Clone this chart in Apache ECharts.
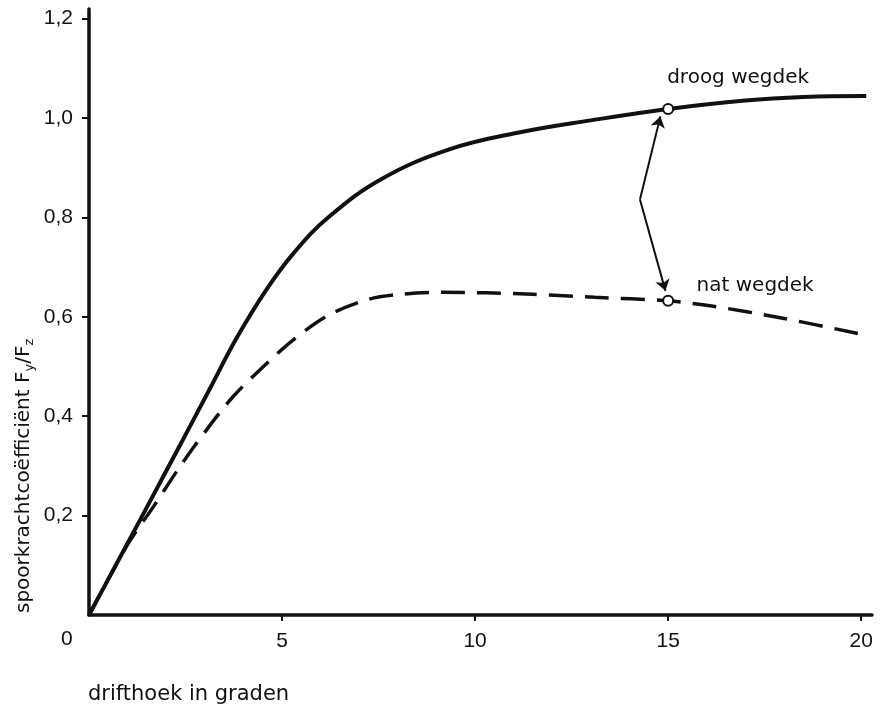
<!DOCTYPE html>
<html>
<head>
<meta charset="utf-8">
<script src="https://cdn.jsdelivr.net/npm/echarts@6.0.0/dist/echarts.min.js"></script>
<style>
  html, body { margin: 0; padding: 0; background: #fff; }
  #chart { width: 880px; height: 709px; }
</style>
</head>
<body>
<div id="chart"></div>
<script>
// drifthoek (graden) -> spoorkrachtcoefficient
var droogWegdek = [
  [0, 0], [0.7, 0.101], [1.41, 0.204], [2.36, 0.342], [3.13, 0.455], [3.83, 0.558],
  [4.6, 0.655], [5.3, 0.728], [6.2, 0.8], [7.6, 0.878], [9.35, 0.937], [11.1, 0.97],
  [13.0, 0.995], [15, 1.018], [17, 1.035], [18.5, 1.042], [20.13, 1.044]
];
var natWegdek = [
  [0, 0], [1.0, 0.142], [1.67, 0.218], [2.36, 0.299], [3.05, 0.373], [3.74, 0.44],
  [4.52, 0.5], [5.3, 0.554], [6.2, 0.603], [7.19, 0.634], [8.06, 0.645], [9.18, 0.649],
  [10.3, 0.648], [11.5, 0.645], [13.1, 0.639], [15, 0.632], [16.17, 0.621],
  [17.9, 0.598], [20.06, 0.564]
];
var markPunten = [[15, 1.018], [15, 0.632]];
var markNamen = ['droog wegdek', 'nat wegdek'];
var pijlen = [
  [[14.27, 0.836], [14.8, 1.003]],
  [[14.27, 0.836], [14.93, 0.652]]
];
var xTicks = [5, 10, 15, 20];
var yTicks = [0.2, 0.4, 0.6, 0.8, 1.0, 1.2];

var ink = '#111';
var myChart = echarts.init(document.getElementById('chart'));

var option = {
  backgroundColor: '#fff',
  animation: false,
  grid: { left: 89, right: 8, top: 9, bottom: 94 },
  xAxis: {
    type: 'value', min: 0, max: 20.28,
    axisLine: { show: true, lineStyle: { color: ink, width: 3.5 } },
    axisTick: { show: true, customValues: xTicks, length: 6, lineStyle: { color: ink, width: 2 } },
    axisLabel: {
      customValues: xTicks, margin: 16, color: ink,
      fontFamily: 'Liberation Sans', fontSize: 21
    },
    splitLine: { show: false }
  },
  yAxis: {
    type: 'value', min: 0, max: 1.219,
    axisLine: { show: true, lineStyle: { color: ink, width: 3.5 } },
    axisTick: { show: true, customValues: yTicks, length: 7, lineStyle: { color: ink, width: 2 } },
    axisLabel: {
      customValues: yTicks, margin: 16, color: ink,
      fontFamily: 'Liberation Sans', fontSize: 21,
      formatter: function (v) { return v.toFixed(1).replace('.', ','); }
    },
    splitLine: { show: false }
  },
  graphic: [
    { type: 'text', left: 61, top: 629, style: { text: '0', fill: ink, font: '21px "Liberation Sans"' } },
    { type: 'text', x: 88, y: 695,
      style: { text: 'drifthoek in graden', fill: ink, font: '21px "DejaVu Sans"',
               align: 'left', verticalAlign: 'middle' } },
    { type: 'text', x: 24, y: 613, rotation: Math.PI / 2,
      style: {
        text: 'spoorkrachtcoëfficiënt F{sub|y}/F{sub|z}',
        fill: ink, font: '20px "DejaVu Sans"', align: 'left', verticalAlign: 'middle',
        rich: { sub: { fontSize: 13, fontFamily: 'DejaVu Sans', fill: ink, padding: [12, 0, 0, 0] } }
      } }
  ],
  series: [
    {
      type: 'line', data: droogWegdek, smooth: 0.4, symbol: 'none',
      lineStyle: { color: ink, width: 4 }, z: 3
    },
    {
      type: 'line', data: natWegdek, smooth: 0.3, symbol: 'none',
      lineStyle: { color: ink, width: 3.5, type: [24, 12] }, z: 2
    },
    {
      type: 'lines', coordinateSystem: 'cartesian2d',
      data: pijlen.map(function (p) { return { coords: p }; }),
      symbol: ['none', 'arrow'], symbolSize: [0, 11],
      lineStyle: { color: ink, width: 2, opacity: 1 }, z: 4
    },
    {
      type: 'scatter', symbol: 'circle', symbolSize: 10, z: 5,
      itemStyle: { color: '#fff', borderColor: ink, borderWidth: 2, opacity: 1 },
      data: markPunten.map(function (p, i) {
        return {
          value: p,
          label: {
            show: true, formatter: markNamen[i], position: 'top',
            offset: i === 0 ? [70, -10] : [87, 6],
            color: ink, opacity: 1, fontFamily: 'DejaVu Sans', fontSize: 20
          }
        };
      })
    }
  ]
};
myChart.setOption(option);
</script>
</body>
</html>
